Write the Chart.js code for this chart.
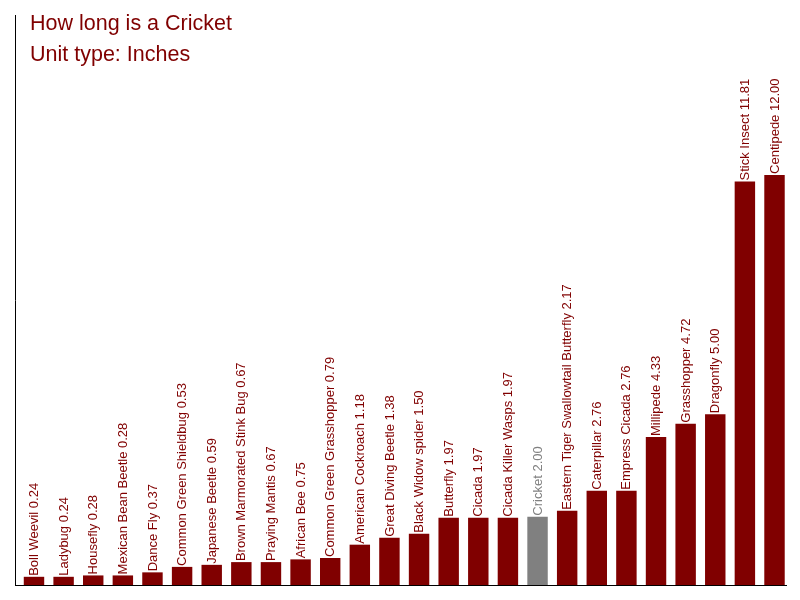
<!DOCTYPE html>
<html>
<head>
<meta charset="utf-8">
<script src="https://cdn.jsdelivr.net/npm/chart.js@4.4.0/dist/chart.umd.min.js"></script>
<style>
html,body{margin:0;padding:0;background:#fff;}
#wrap{width:800px;height:600px;position:relative;}
</style>
</head>
<body>
<div id="wrap"><canvas id="c" width="800" height="600"></canvas></div>
<script>
const titleLines = ["How long is a Cricket", "Unit type: Inches"];
const categories = ["Boll Weevil","Ladybug","Housefly","Mexican Bean Beetle","Dance Fly","Common Green Shieldbug","Japanese Beetle","Brown Marmorated Stink Bug","Praying Mantis","African Bee","Common Green Grasshopper","American Cockroach","Great Diving Beetle","Black Widow spider","Butterfly","Cicada","Cicada Killer Wasps","Cricket","Eastern Tiger Swallowtail Butterfly","Caterpillar","Empress Cicada","Millipede","Grasshopper","Dragonfly","Stick Insect","Centipede"];
const lengths = [0.24,0.24,0.28,0.28,0.37,0.53,0.59,0.67,0.67,0.75,0.79,1.18,1.38,1.50,1.97,1.97,1.97,2.00,2.17,2.76,2.76,4.33,4.72,5.00,11.81,12.00];
const highlight = "Cricket";

const RED = "#800000", GREY = "#808080";
const colors = categories.map(c => c === highlight ? GREY : RED);
const points = lengths.map((v, i) => ({x: i, y: v}));

const labelPlugin = {
  id: 'barLabels',
  afterDatasetsDraw(chart) {
    const ctx = chart.ctx;
    const meta = chart.getDatasetMeta(0);
    ctx.save();
    ctx.font = '13px "Liberation Sans", Arial, sans-serif';
    ctx.textBaseline = 'middle';
    ctx.textAlign = 'left';
    meta.data.forEach((bar, i) => {
      ctx.save();
      ctx.translate(bar.x + 0.5, bar.y - 1);
      ctx.rotate(-Math.PI / 2);
      ctx.fillStyle = colors[i];
      ctx.fillText(categories[i] + " " + lengths[i].toFixed(2), 0, 0);
      ctx.restore();
    });
    ctx.restore();
  }
};

const titlePlugin = {
  id: 'titleText',
  afterDraw(chart) {
    const ctx = chart.ctx;
    ctx.save();
    ctx.font = '21.5px "Liberation Sans", Arial, sans-serif';
    ctx.fillStyle = RED;
    ctx.textBaseline = 'alphabetic';
    ctx.textAlign = 'left';
    ctx.fillText(titleLines[0], 30, 30);
    ctx.fillText(titleLines[1], 30, 61);
    ctx.restore();
  }
};

new Chart(document.getElementById('c'), {
  type: 'bar',
  data: {
    datasets: [{
      data: points,
      backgroundColor: colors,
      borderWidth: 0,
      barPercentage: 0.69,
      categoryPercentage: 1.0
    }]
  },
  options: {
    responsive: false,
    animation: false,
    devicePixelRatio: 1,
    layout: {padding: {left: 7, top: 15, right: 14, bottom: 7}},
    plugins: {legend: {display: false}, tooltip: {enabled: false}, title: {display: false}},
    scales: {
      x: {
        type: 'linear',
        min: -0.641,
        max: 25.388,
        offset: false,
        grid: {display: false},
        ticks: {display: false},
        border: {display: true, color: '#000', width: 1}
      },
      y: {
        min: 0,
        max: 16.68,
        grid: {display: false},
        ticks: {display: false},
        border: {display: true, color: '#000', width: 1}
      }
    }
  },
  plugins: [labelPlugin, titlePlugin]
});
</script>
</body>
</html>
